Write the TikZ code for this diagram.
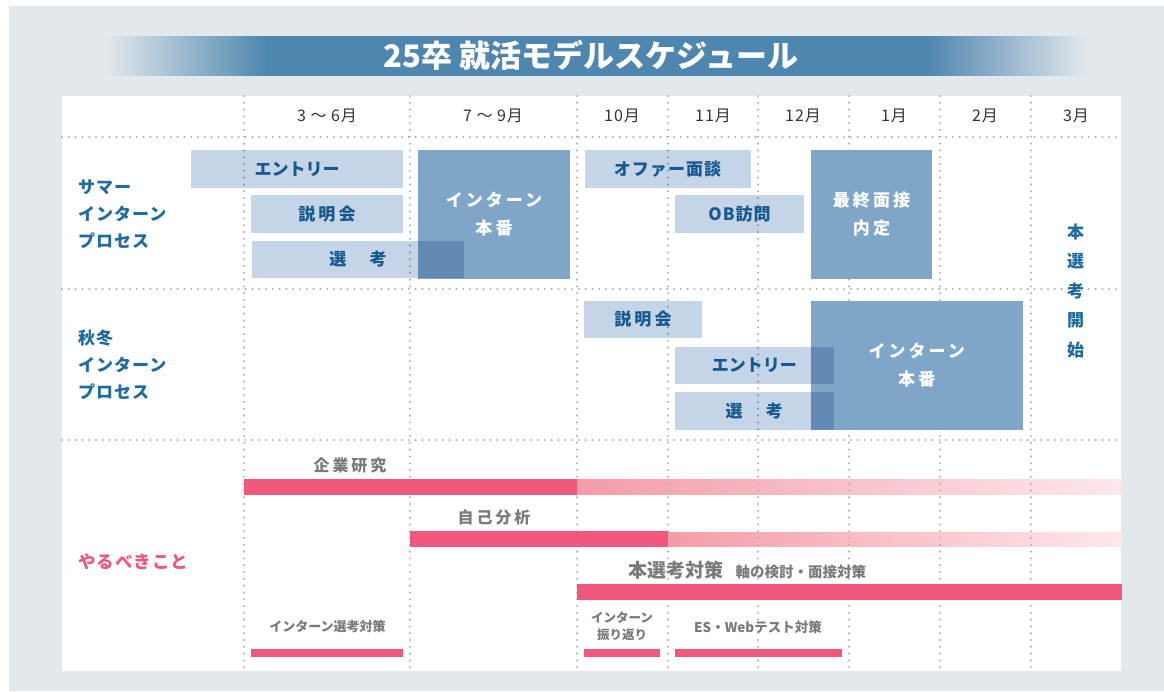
\documentclass[tikz,border=0pt]{standalone}
\usepackage{fontspec}
\setmainfont{Noto Sans CJK JP}
\newfontfamily\jpA[LetterSpace=6]{Noto Sans CJK JP}
\newfontfamily\jpB[LetterSpace=18]{Noto Sans CJK JP}
\newfontfamily\jpM[LetterSpace=6]{Noto Sans CJK JP}
\definecolor{cBg}{HTML}{E3E8EC}
\definecolor{cTitle}{HTML}{4F86AF}
\definecolor{cLight}{HTML}{C5D4E6}
\definecolor{cBig}{HTML}{7FA6C8}
\definecolor{cBlue}{HTML}{1D6BA0}
\definecolor{cPink}{HTML}{EF587B}
\definecolor{cPinkA}{HTML}{F49CA8}
\definecolor{cPinkB}{HTML}{FDE8EB}
\definecolor{cGrayText}{HTML}{7A7A7A}
\definecolor{cDot}{HTML}{B2B2B2}
\definecolor{cMonth}{HTML}{333333}
\pgfdeclarehorizontalshading{titleband}{100bp}{color(0bp)=(cBg); color(25bp)=(cBg); color(33.2bp)=(cTitle); color(66.8bp)=(cTitle); color(75bp)=(cBg); color(100bp)=(cBg)}
\tikzset{
  dotline/.style={draw=cDot, line width=2.3pt, line cap=round, dash pattern=on 0pt off 6.8pt},
  lightbox/.style={fill=cLight, inner sep=0pt, text=cBlue, align=center},
  bigbox/.style={fill=cBig, inner sep=0pt, text=white, align=center, font=\jpB\bfseries\fontsize{17}{28}\selectfont},
  rowlabel/.style={anchor=west, inner sep=0pt, align=left, text=cBlue, font=\jpA\bfseries\fontsize{17}{27}\selectfont},
  monthlabel/.style={inner sep=0pt, text=cMonth, font=\jpM\fontsize{16}{16}\selectfont},
  barlabel/.style={inner sep=0pt, text=cGrayText, align=center},
  kanjifont/.style={font=\jpB\bfseries\fontsize{17}{17}\selectfont},
  mixfont/.style={font=\jpA\bfseries\fontsize{17}{17}\selectfont},
  kanafont/.style={font=\bfseries\fontsize{17}{17}\selectfont},
  pinkbar/.style={fill=cPink},
  fadebar/.style={left color=cPinkA, right color=cPinkB, shading=axis}
}
\begin{document}
\begin{tikzpicture}[x=1pt, y=-1pt]
\useasboundingbox (0,0) rectangle (1164,691);
\fill[white] (0,0) rectangle (1164,691);
\fill[cBg] (9,6) rectangle (1164,691);
\fill[white] (62,96) rectangle (1121,671);
% title band
\shade[shading=titleband] (106,36) rectangle (1088,75);
\node[inner sep=0pt, text=white, font=\bfseries\fontsize{31}{31}\selectfont] (title) at (591,55) {25卒 就活モデルスケジュール};
% fading bars
\shade[fadebar] (577,479) rectangle (1121,494.5);
\shade[fadebar] (668,532) rectangle (1121,546.5);
% grid
\foreach \x in {244,410,577,668,758,849,940,1031}
  \draw[dotline] (\x,96) -- (\x,671);
\foreach \y in {137,289,440}
  \draw[dotline] (62,\y) -- (1121,\y);
% month labels
\node[monthlabel] (m1) at (327,116) {3 ～ 6月};
\node[monthlabel] (m2) at (493,116) {7 ～ 9月};
\node[monthlabel] (m3) at (622,116) {10月};
\node[monthlabel] (m4) at (713,116) {11月};
\node[monthlabel] (m5) at (803,116) {12月};
\node[monthlabel] (m6) at (894,116) {1月};
\node[monthlabel] (m7) at (985,116) {2月};
\node[monthlabel] (m8) at (1076,116) {3月};
% row labels
\node[rowlabel] (r1) at (78,214) {サマー\\インターン\\プロセス};
\node[rowlabel] (r2) at (78,365) {秋冬\\インターン\\プロセス};
\node[anchor=west, inner sep=0pt, text=cPink, font=\jpA\bfseries\fontsize{17.5}{17.5}\selectfont] (r3) at (78,562) {やるべきこと};
% big boxes
\node[bigbox, minimum width=152pt, minimum height=129pt] (sb) at (494,214.5) {インターン\\本番};
\node[bigbox, minimum width=121pt, minimum height=129pt] (sf) at (871.5,214.5) {最終面接\\内定};
\node[bigbox, minimum width=211.5pt, minimum height=128.5pt] (wb) at (916.75,365.25) {インターン\\本番};
% light boxes
\begin{scope}[blend mode=multiply]
\node[lightbox, kanafont, minimum width=212pt, minimum height=38pt] (se) at (297,169) {エントリー};
\node[lightbox, kanjifont, minimum width=152pt, minimum height=38pt] (ss) at (327,214) {説明会};
\node[lightbox, kanjifont, minimum width=212pt, minimum height=37pt] (sk) at (358,259.5) {選　考};
\node[lightbox, mixfont, minimum width=166pt, minimum height=38pt] (so) at (667.5,169) {オファー面談};
\node[lightbox, mixfont, minimum width=129pt, minimum height=38pt] (sob) at (739.5,214) {OB訪問};
\node[lightbox, kanjifont, minimum width=118pt, minimum height=37pt] (ws) at (643,319.5) {説明会};
\node[lightbox, kanafont, minimum width=158.5pt, minimum height=37.5pt] (we) at (754.25,365.5) {エントリー};
\node[lightbox, kanjifont, minimum width=158.5pt, minimum height=37.5pt] (wk) at (754.25,410.75) {選　考};
\end{scope}
% vertical label
\node[inner sep=0pt, align=center, text=cBlue, font=\bfseries\fontsize{17}{29.5}\selectfont] (start) at (1075.5,291) {本\\選\\考\\開\\始};
% solid bars
\fill[pinkbar] (244,479) rectangle (577,495);
\fill[pinkbar] (410,531) rectangle (668,547);
\fill[pinkbar] (577,584) rectangle (1121.5,600);
\fill[pinkbar] (251,649) rectangle (403,657);
\fill[pinkbar] (584,649) rectangle (660,657);
\fill[pinkbar] (675,649) rectangle (842,657);
% bar labels
\node[barlabel, font=\jpB\bfseries\fontsize{16}{16}\selectfont] (t1) at (350,465) {企業研究};
\node[barlabel, font=\jpB\bfseries\fontsize{16}{16}\selectfont] (t2) at (494,517) {自己分析};
\node[barlabel, anchor=west] (t3) at (628.5,570) {{\bfseries\fontsize{19}{19}\selectfont 本選考対策}\hspace{12pt}{\bfseries\fontsize{14.5}{14.5}\selectfont 軸の検討・面接対策}};
\node[barlabel, font=\bfseries\fontsize{13}{13}\selectfont] (t4) at (327.5,627) {インターン選考対策};
\node[barlabel, font=\bfseries\fontsize{12.5}{17}\selectfont] (t5) at (622,626.5) {インターン\\振り返り};
\node[barlabel, font=\bfseries\fontsize{13.5}{13.5}\selectfont] (t6) at (758,627) {ES・Webテスト対策};
\end{tikzpicture}
\end{document}
